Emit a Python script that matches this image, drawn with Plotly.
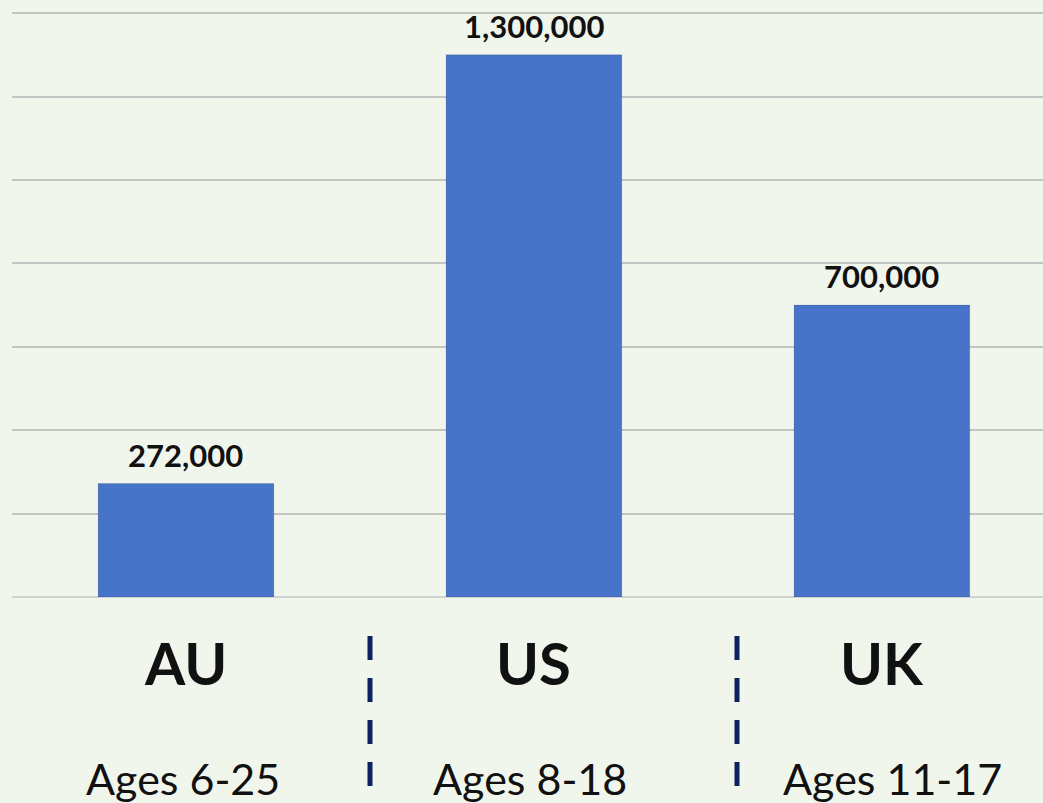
import plotly.graph_objects as go

countries = ["AU", "US", "UK"]
age_ranges = ["Ages 6-25", "Ages 8-18", "Ages 11-17"]
values = [272000, 1300000, 700000]
value_labels = ["272,000", "1,300,000", "700,000"]

BG = "#f1f6ed"
FONT = "Lato, 'Open Sans', sans-serif"

PLOT_TOP = 11
PLOT_BOTTOM = 597
PLOT_H = PLOT_BOTTOM - PLOT_TOP
AGE_XSHIFT = {"AU": -3, "US": -4, "UK": 11}

def py(pix):
    return -(pix - PLOT_BOTTOM) / PLOT_H

fig = go.Figure()
fig.add_trace(go.Bar(
    x=list(range(len(countries))),
    y=values,
    width=0.505,
    marker=dict(color="#4773c8", line=dict(color="rgba(0,0,0,0.12)", width=1)),
    hoverinfo="skip",
))

annotations = []
for i, (v, lab) in enumerate(zip(values, value_labels)):
    annotations.append(dict(
        x=i, y=v, xref="x", yref="y", text=f"<b>{lab}</b>", showarrow=False,
        yanchor="bottom", yshift=8, font=dict(family=FONT, size=31, color="#111111"),
    ))
for i, (c, a) in enumerate(zip(countries, age_ranges)):
    annotations.append(dict(
        x=i, y=py(663), xref="x", yref="paper", text=f"<b>{c}</b>", showarrow=False,
        yanchor="middle", font=dict(family=FONT, size=58, color="#111111"),
    ))
    annotations.append(dict(
        x=i, y=py(778), xref="x", yref="paper", text=a, showarrow=False,
        xshift=AGE_XSHIFT[c],
        yanchor="middle", font=dict(family=FONT, size=43, color="#111111"),
    ))

shapes = []
for xp in [(370 - 12) / 1031, (737 - 12) / 1031]:
    shapes.append(dict(
        type="line", xref="paper", yref="paper", x0=xp, x1=xp,
        y0=py(636), y1=py(787),
        line=dict(color="#0b2160", width=5, dash="24px,18px"),
    ))

fig.update_layout(
    width=1043, height=803,
    margin=dict(l=12, r=0, t=PLOT_TOP, b=803 - PLOT_BOTTOM),
    paper_bgcolor=BG, plot_bgcolor=BG,
    showlegend=False,
    annotations=annotations,
    shapes=shapes,
    xaxis=dict(range=[-0.5, 2.463], showticklabels=False, showgrid=False,
               zeroline=False, showline=False, fixedrange=True),
    yaxis=dict(range=[0, 1405000], dtick=200000, showticklabels=False,
               showgrid=True, gridcolor="#c4c4c4", gridwidth=2,
               zeroline=True, zerolinecolor="#d2d2d2", zerolinewidth=2,
               showline=False, fixedrange=True),
)

fig.write_html("out.html", config={"displayModeBar": False},
               post_script="document.body.style.margin='0';document.body.style.background='" + BG + "';")
